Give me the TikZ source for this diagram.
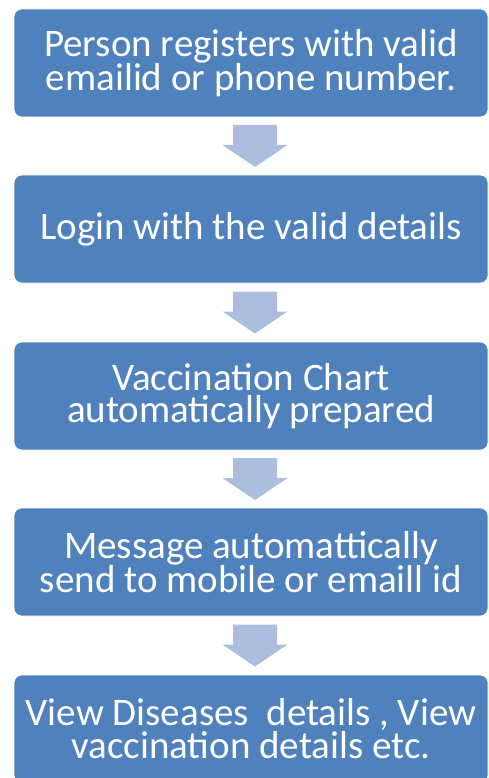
\documentclass[tikz,border=0pt]{standalone}
\usepackage{fontspec}
\setmainfont{Carlito}
\usepackage{xcolor}
\usetikzlibrary{calc}
\definecolor{boxblue}{RGB}{79,129,189}
\definecolor{arrowblue}{RGB}{172,190,222}

\begin{document}
\begin{tikzpicture}[x=1pt,y=-1pt,
        flowbox/.style={fill=boxblue,draw=white,line width=0.6pt,rounded corners=8pt,
            minimum width=474pt,minimum height=108pt,inner sep=0pt,text=white,align=center,
            font=\fontsize{39}{32}\selectfont},
        downarr/.style={fill=arrowblue}]
        \useasboundingbox (0,0) rectangle (489,778);
        \node[flowbox] (reg) at (251,63) {Person registers with valid\\emailid or phone number.};
        \node[flowbox] (login) at (251,229) {Login with the valid details};
        \node[flowbox] (chart) at (251,396) {Vaccination Chart\\automatically prepared};
        \node[flowbox] (msg) at (251,562) {Message automattically\\send to mobile or emaill id};
        \node[flowbox] (view) at (251,729) {View Diseases\ \ details , View\\vaccination details etc.};
        \foreach \a/\b in {reg/login,login/chart,chart/msg,msg/view}
        {
            \coordinate (m\a) at ($(\a.south)!0.5!(\b.north)$);
            \fill[downarr] ($(m\a)+(-18,-21)$) -- ++(44,0) -- ++(0,20) -- ++(10.5,0)
                -- ++(-32.5,22) -- ++(-32.5,-22) -- ++(10.5,0) -- cycle;
        }
    \end{tikzpicture}
\end{document}
